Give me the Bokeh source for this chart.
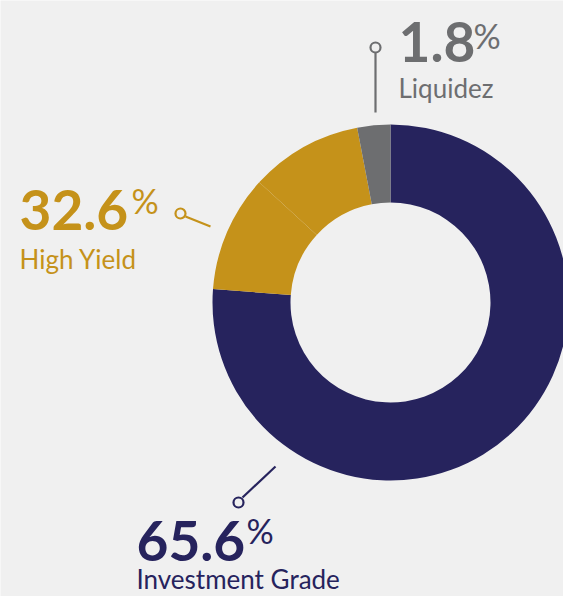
from bokeh.plotting import figure
from bokeh.models import Range1d
from bokeh.core.properties import value
from bokeh.embed import file_html
from bokeh.resources import INLINE
import numpy as np

# Slice shares as drawn in the picture (clockwise from 12 o'clock)
slice_names = ["Investment Grade", "High Yield A", "High Yield B", "Liquidez"]
slice_values = [76.2, 10.6, 10.2, 3.0]
slice_colors = ["#26235d", "#c5921a", "#c5921a", "#6d6e70"]

# Labels
label_names = ["Liquidez", "High Yield", "Investment Grade"]
label_values = ["1.8", "32.6", "65.6"]
label_colors = ["#6d6e70", "#c5921a", "#26235d"]

W, H = 563, 596
BG = "#f0f0f0"
FONT = "Lato"

def Y(py):
    return H - py

p = figure(width=W, height=H, output_backend="svg", toolbar_location=None,
           x_range=Range1d(0, W), y_range=Range1d(0, H), min_border=0)
p.axis.visible = False
p.grid.visible = False
p.outline_line_color = None
p.background_fill_color = BG
p.border_fill_color = BG

cx, cy = 390, Y(302)
vals = np.array(slice_values, dtype=float)
fr = vals / vals.sum() * 2 * np.pi
ends = np.cumsum(fr)
starts = ends - fr
start_angle = np.pi / 2 - starts
end_angle = np.pi / 2 - ends
p.annular_wedge(x=cx, y=cy, inner_radius=100, outer_radius=178,
                start_angle=list(start_angle), end_angle=list(end_angle),
                direction="clock", fill_color=slice_colors, line_color=None)

# connectors
def connector(x0, y0, x1, y1, cxp, cyp, color):
    p.line([x0, x1], [Y(y0), Y(y1)], line_color=color, line_width=2.2)
    p.scatter([cxp], [Y(cyp)], marker="circle", size=10, fill_color=BG,
              line_color=color, line_width=2.2)

connector(375, 52, 375, 112, 375, 47, label_colors[0])
connector(185, 216, 210, 226, 180, 213, label_colors[1])
connector(242, 497, 275, 466, 238, 502, label_colors[2])

NUM_SIZE = 55
PCT_SIZE = 34
NAME_SIZE = 26
OFF = 0.37  # empirical baseline correction

def label(i, x, base_num, pct_x, pct_top, base_name):
    c = label_colors[i]
    p.text([x], [Y(base_num - OFF * NUM_SIZE)], text=[label_values[i]], text_color=c,
           text_font=value(FONT), text_font_style="bold",
           text_font_size=f"{NUM_SIZE}px",
           text_baseline="alphabetic", text_align="left")
    p.text([pct_x], [Y(pct_top)], text=["%"], text_color=c,
           text_font=value(FONT), text_font_size=f"{PCT_SIZE}px",
           text_baseline="top", text_align="left")
    p.text([x], [Y(base_name - OFF * NAME_SIZE)], text=[label_names[i]], text_color=c,
           text_font=value(FONT), text_font_size=f"{NAME_SIZE}px",
           text_baseline="alphabetic", text_align="left")

label(0, 398, 62, 473, 14, 97)
label(1, 19, 230, 131, 179, 268)
label(2, 136, 561, 246, 509, 588)

open("out.html", "w").write(file_html(p, INLINE))
